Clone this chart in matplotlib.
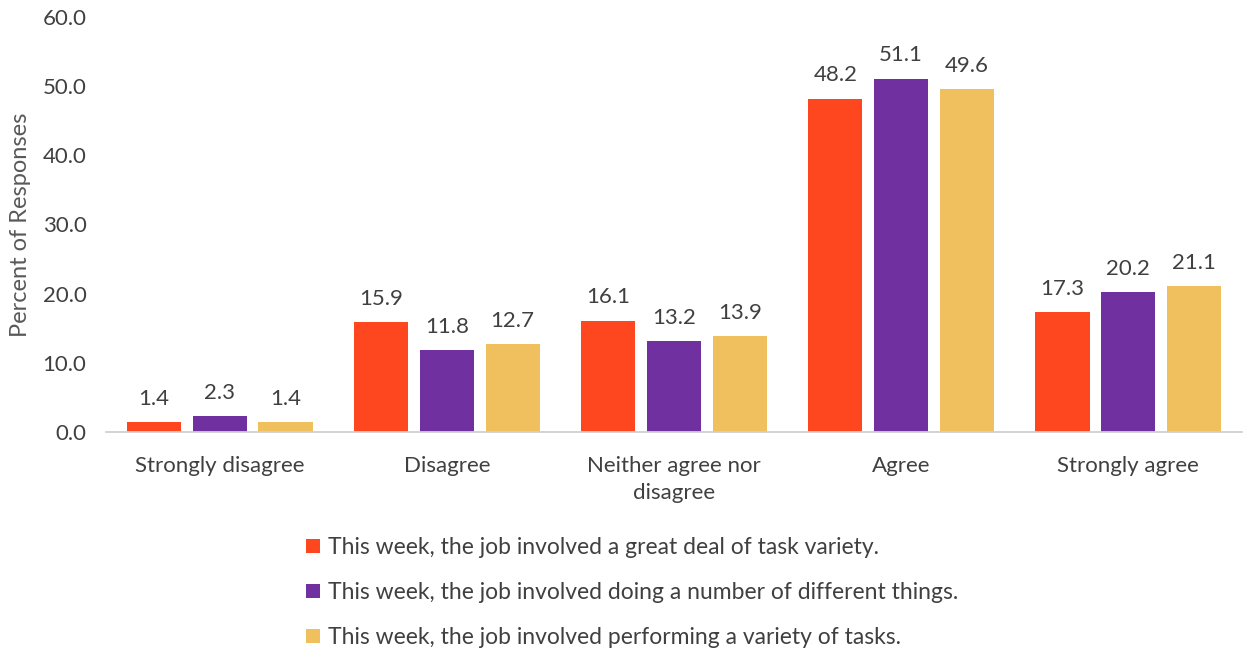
import numpy as np
import matplotlib.pyplot as plt
from matplotlib.patches import Patch

plt.rcParams['font.family'] = ['Lato', 'DejaVu Sans']

# ---- data ----
categorias = ["Strongly disagree", "Disagree", "Neither agree nor\ndisagree", "Agree", "Strongly agree"]
series = [
    "This week, the job involved a great deal of task variety.",
    "This week, the job involved doing a number of different things.",
    "This week, the job involved performing a variety of tasks.",
]
variedad = [1.4, 15.9, 16.1, 48.2, 17.3]
cosas_distintas = [2.3, 11.8, 13.2, 51.1, 20.2]
tareas = [1.4, 12.7, 13.9, 49.6, 21.1]
valores = [variedad, cosas_distintas, tareas]
colores = ["#FF471F", "#7030A0", "#F0BF5E"]

texto = "#404040"

fig = plt.figure(figsize=(12.47, 6.49), dpi=100)
ax = fig.add_axes([0.085, 0.3344, 0.911, 0.6394])

x = np.arange(len(categorias))
ancho = 0.238
paso = 0.29
for i, (vals, color) in enumerate(zip(valores, colores)):
    pos = x + (i - 1) * paso
    barras = ax.bar(pos, vals, ancho, color=color, zorder=2)
    for b, v in zip(barras, vals):
        ax.text(b.get_x() + b.get_width() / 2, v + 1.9, f"{v:.1f}",
                ha="center", va="bottom", fontsize=16, color=texto)

ax.set_xlim(-0.5, len(categorias) - 0.5)
ax.set_ylim(0, 60)
ax.set_yticks(np.arange(0, 61, 10))
ax.set_yticklabels([f"{t:.1f}" for t in np.arange(0, 61, 10)])
ax.set_xticks(x)
ax.set_xticklabels(categorias, linespacing=1.45, va="top")
ax.tick_params(axis="both", length=0, labelsize=16, colors=texto)
ax.tick_params(axis="x", pad=17)
ax.tick_params(axis="y", pad=14)

for s in ["top", "right", "left"]:
    ax.spines[s].set_visible(False)
ax.spines["bottom"].set_color("#D0D0D0")
ax.spines["bottom"].set_linewidth(1.3)

ax.set_ylabel("Percent of Responses", fontsize=17, color="#595959", labelpad=8)

manijas = [Patch(facecolor=c, edgecolor="none") for c in colores]
fig.legend(manijas, series, loc="upper left", bbox_to_anchor=(0.236, 0.19),
           frameon=False, fontsize=16.5, labelcolor=texto,
           handlelength=0.6, handleheight=0.6, handletextpad=0.35,
           labelspacing=1.05, borderpad=0)

fig.savefig("out.png", dpi=100)
